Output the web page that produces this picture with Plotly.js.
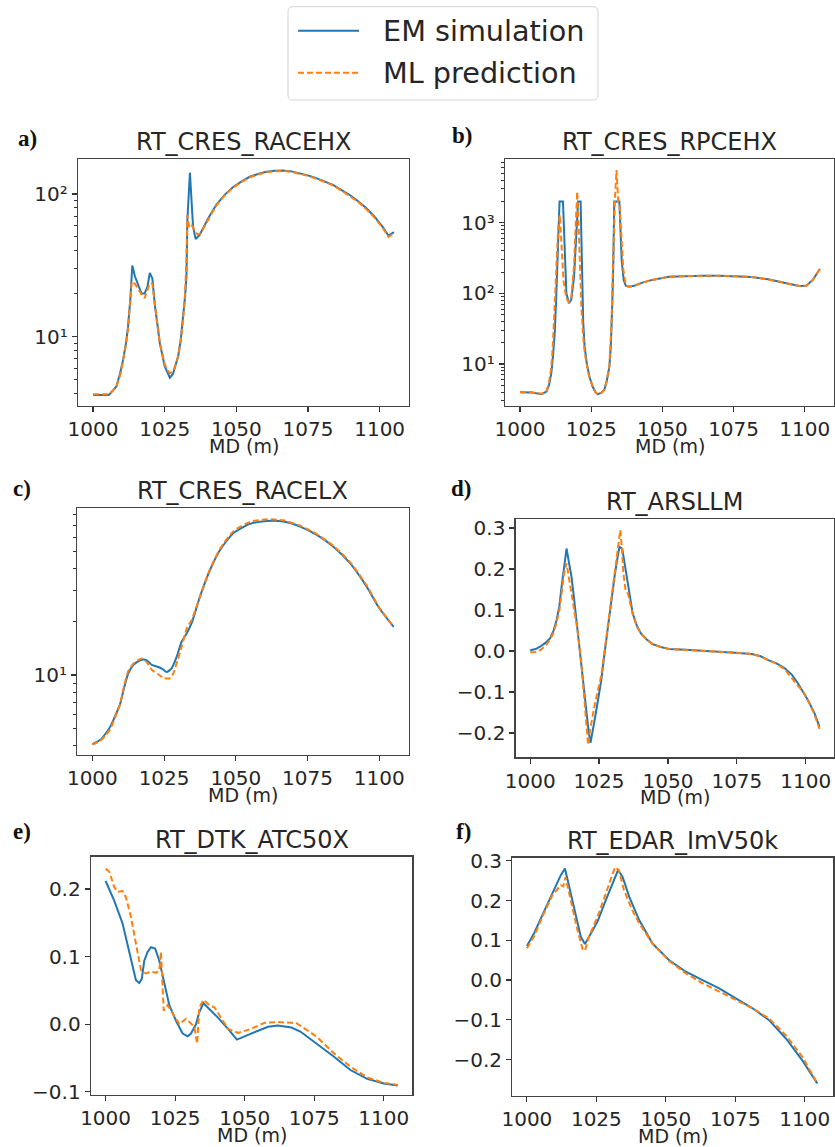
<!DOCTYPE html>
<html><head><meta charset="utf-8">
<script src="https://cdn.plot.ly/plotly-3.0.1.min.js"></script>
<style>html,body{margin:0;padding:0;background:#fff;}#chart{width:835px;height:1147px;}</style>
</head><body><div id="chart"></div>
<script>
// ---------------- data ----------------
const mdTicks = [1000, 1025, 1050, 1075, 1100];
const mdTickText = ['1000', '1025', '1050', '1075', '1100'];
const seriesNames = ['EM simulation', 'ML prediction'];
const panelTitles = ['RT_CRES_RACEHX', 'RT_CRES_RPCEHX', 'RT_CRES_RACELX', 'RT_ARSLLM', 'RT_DTK_ATC50X', 'RT_EDAR_ImV50k'];
const panelLetters = ['a)', 'b)', 'c)', 'd)', 'e)', 'f)'];
const xTitle = 'MD (m)';

// a) RT_CRES_RACEHX
const mdA_em = [1000,1003,1005.5,1007,1008.2,1009.5,1010.5,1011.5,1012.2,1013,1013.7,1014.6,1015.7,1016.9,1018,1019,1019.8,1020.7,1021.5,1022.4,1023.3,1025,1026,1026.8,1027.9,1029,1029.7,1030.6,1031.4,1032.1,1032.6,1032.9,1033.8,1034.9,1035.8,1037.2,1040.2,1043,1046,1048.9,1052,1054.7,1057.5,1060.5,1063.4,1066.3,1069.2,1072.1,1075,1077.9,1080.8,1083.7,1086.6,1089.6,1092.5,1095.4,1098.3,1101,1103.1,1105];
const racehx_em = [3.9,3.9,3.9,4.2,4.5,5.6,6.9,9.0,11.7,18.1,31.5,26.5,23,20.1,20.1,22.4,28,25.6,17.1,12,9.0,6.2,5.5,5.15,5.5,6.4,7.3,9.5,13.1,19,26.3,65,141,59,48.4,51.6,67.6,84,99,112,123,132,138,143,145.5,146,144,140,135,129,123,116,107,98.4,89,79.4,69,59,51,54];
const mdA_ml = [1000,1003,1005.5,1007,1008.2,1009.5,1010.5,1011.5,1012.2,1013,1013.5,1014.6,1015.7,1016.9,1018,1019,1019.8,1020.7,1021.5,1022.4,1023.3,1025,1026,1026.8,1027.9,1029,1029.7,1030.6,1031.4,1032.1,1032.6,1032.9,1033.6,1034.5,1035.5,1036.5,1037.5,1040.2,1043,1046,1048.9,1052,1054.7,1057.5,1060.5,1063.4,1066.3,1069.2,1072.1,1075,1077.9,1080.8,1083.7,1086.6,1089.6,1092.5,1095.4,1098.3,1101,1103.1,1105];
const racehx_ml = [3.95,3.95,3.95,4.2,4.5,5.4,6.7,8.8,11.5,17,24.3,23.5,21.5,19.8,18.6,21.5,23.7,23.5,17,12,9,6.4,5.8,5.55,5.7,6.5,7.3,9.4,13,20,35,71,58,60,55,52,53,66,83,98,111,122,131,137,142,144.5,145,143,139,134,128,122,115,106,97,88,78,68,58,50,53];

// b) RT_CRES_RPCEHX
const mdB_em = [1000,1004,1007.6,1009.3,1010.2,1011,1011.6,1012.2,1012.7,1013.1,1013.5,1013.9,1015.1,1015.4,1015.7,1016.3,1017.2,1018,1019,1019.8,1020.4,1021.3,1021.5,1021.8,1022.2,1022.7,1023.5,1024.4,1025.5,1026.5,1027.3,1028.5,1029.6,1030.5,1031.4,1031.9,1032.2,1032.5,1032.8,1033.1,1034.9,1035.3,1035.7,1036.4,1037.2,1038.3,1040.1,1043,1046.4,1052.3,1058,1063.9,1069.7,1075.5,1081.3,1087.1,1093,1098,1100.5,1102.8,1105.3];
const rpcehx_em = [4.0,3.97,3.74,4.07,5.0,7.4,13,27,80,214,700,2000,2000,800,369,100,72.4,80.7,172,878,2000,2000,600,100,40,17.6,10,6.6,4.8,4.0,3.74,3.9,4.3,5.8,9.2,18,33.8,90,297,2000,2000,800,297,155,127,124,128,142,155,172,176,178,178,176,171,158,142,127,128,155,221];
const mdB_ml = [1000,1004,1007.6,1009.3,1010.2,1011,1011.6,1012.2,1012.8,1013.4,1014.0,1014.6,1015.3,1016.3,1017.2,1018,1019,1019.6,1020.1,1020.6,1021.1,1021.6,1022.2,1022.7,1023.5,1024.4,1025.5,1026.5,1027.3,1028.5,1029.6,1030.5,1031.4,1031.9,1032.2,1032.5,1032.9,1033.3,1033.9,1034.5,1035.0,1035.7,1036.3,1037.2,1038.3,1040.1,1043,1046.4,1052.3,1058,1063.9,1069.7,1075.5,1081.3,1087.1,1093,1098,1100.5,1102.8,1105.3];
const rpcehx_ml = [4.0,4.0,3.8,4.1,5.5,9,20,60,250,800,1285,400,150,85,75,85,250,1000,2740,900,200,60,25,15,9.5,6.5,4.8,4.0,3.75,3.9,4.3,5.9,9.5,20,45,150,600,2000,5560,2000,1680,511,214,130,124,128,142,155,172,176,178,178,176,171,158,142,127,128,155,221];

// c) RT_CRES_RACELX
const mdC_em = [1000,1002.7,1004.5,1006.2,1008,1009.7,1011,1012.5,1014.3,1015.8,1017.2,1019,1020.7,1023,1024.5,1025.9,1027.6,1029.4,1031.1,1032.9,1034.6,1037.5,1041,1044.5,1049.1,1054.9,1060.8,1066.6,1072.4,1078.2,1084,1089.8,1095.6,1100,1105];
const racelx_em = [4.08,4.30,4.65,5.1,5.9,6.9,8.4,10.2,11.4,11.9,12.2,12.1,11.4,11.1,10.8,10.4,10.9,12.7,15.4,17.2,19.6,27.7,39.1,50.7,63,71.1,73.9,73.3,68.6,61.6,52.9,42.7,31.5,23.8,18.7];
const mdC_ml = [1000,1002.7,1004.5,1006.2,1008,1009.7,1011,1012.5,1014.3,1015.8,1017.2,1019,1020.7,1023,1024.8,1027.1,1028.2,1029.6,1031.1,1033,1034.6,1036,1037.5,1041,1044.5,1049.1,1054.9,1060.8,1066.6,1072.4,1078.2,1084,1089.8,1095.6,1100,1105];
const racelx_ml = [4.05,4.25,4.55,4.95,5.8,6.9,8.6,10.5,11.6,12.1,12.4,11.8,10.7,10.1,9.6,9.6,10.2,12.0,14.4,18.5,20.4,23.5,27.5,39.5,51.5,64.5,73,75.5,74.5,69.5,62.3,53.5,43.3,32,24,18.7];

// d) RT_ARSLLM
const mdD_em = [1000,1002,1003.6,1005.5,1007.2,1008.5,1009.6,1010.6,1011.4,1012.3,1013.2,1014.1,1015,1015.9,1016.8,1017.7,1018.6,1019.5,1020.4,1021.2,1021.9,1022.6,1023.4,1024.6,1025.8,1027,1028.2,1029.4,1030.6,1031.5,1032.4,1033.4,1034.1,1034.8,1036,1037.2,1038.7,1040.2,1042.3,1044.4,1047.4,1050.4,1056.4,1062.4,1068.4,1074.4,1080.4,1083.4,1086.4,1089.4,1092.4,1095,1097.2,1099.2,1100.8,1103.2,1105];
const arsllm_em = [0.002,0.005,0.0105,0.02,0.031,0.05,0.076,0.11,0.157,0.205,0.25,0.215,0.181,0.13,0.076,0.02,-0.03,-0.09,-0.152,-0.195,-0.224,-0.2,-0.168,-0.12,-0.071,-0.005,0.059,0.12,0.181,0.22,0.254,0.25,0.22,0.19,0.14,0.092,0.062,0.043,0.028,0.017,0.01,0.005,0.003,0.001,-0.001,-0.004,-0.007,-0.012,-0.022,-0.03,-0.042,-0.058,-0.079,-0.1,-0.12,-0.152,-0.185];
const mdD_ml = [1000,1002,1003.6,1005.5,1007.2,1008.4,1009.6,1010.6,1011.4,1012.3,1013.2,1014.4,1015.3,1016.3,1017.2,1018.6,1019.5,1020.4,1021,1021.8,1022.8,1023.6,1024.6,1025.8,1027,1028.2,1029.4,1030.6,1031.5,1032.2,1032.7,1033.3,1033.8,1034.6,1035.5,1037.2,1038.7,1040.2,1042.3,1044.4,1047.4,1050.4,1056.4,1062.4,1068.4,1074.4,1080.4,1083.4,1086.4,1089.4,1092.4,1095,1097.2,1099.2,1100.8,1103.2,1105];
const arsllm_ml = [-0.003,-0.002,0.002,0.012,0.028,0.043,0.07,0.1,0.14,0.19,0.214,0.165,0.13,0.09,0.05,-0.03,-0.1,-0.175,-0.229,-0.19,-0.152,-0.125,-0.095,-0.06,0.0,0.06,0.12,0.18,0.225,0.27,0.295,0.25,0.19,0.149,0.14,0.09,0.06,0.042,0.028,0.017,0.01,0.005,0.003,0.001,-0.001,-0.004,-0.007,-0.013,-0.022,-0.031,-0.045,-0.068,-0.085,-0.1,-0.12,-0.155,-0.19];

// e) RT_DTK_ATC50X
const mdE_em = [1000,1003.1,1006.1,1008.5,1010.9,1012.1,1013,1013.9,1015.1,1016.3,1017.8,1019.3,1021.1,1022.9,1025.3,1027.7,1029.5,1030.7,1032.5,1033.7,1035.2,1036.7,1040.3,1044,1047.2,1052.3,1058.4,1061.9,1066.8,1070,1076,1082,1088,1094,1100,1105];
const atc50x_em = [0.212,0.183,0.149,0.109,0.065,0.061,0.067,0.094,0.107,0.114,0.112,0.094,0.06,0.028,0.005,-0.014,-0.018,-0.014,0.0,0.018,0.031,0.025,0.01,-0.007,-0.023,-0.014,-0.004,-0.002,-0.005,-0.011,-0.029,-0.048,-0.068,-0.081,-0.088,-0.091];
const mdE_ml = [1000,1001.3,1003.1,1004.3,1006.1,1007.3,1009.1,1010.9,1012.7,1014.5,1016.3,1018.1,1019.3,1019.9,1020.5,1020.9,1022.3,1023.5,1026.5,1028.9,1030.7,1031.9,1032.9,1033.7,1035.2,1037.3,1039.1,1040.9,1044,1047.6,1052.3,1057.1,1061.9,1066.8,1068.8,1076,1082,1088,1094,1100,1105];
const atc50x_ml = [0.230,0.226,0.203,0.196,0.197,0.188,0.159,0.119,0.080,0.075,0.078,0.076,0.080,0.107,0.065,0.020,0.028,0.020,0.000,0.008,0.000,-0.004,-0.029,0.025,0.036,0.028,0.025,0.013,-0.007,-0.013,-0.007,0.002,0.003,0.002,0.001,-0.019,-0.043,-0.063,-0.079,-0.087,-0.090];

// f) RT_EDAR_ImV50k
const mdF_em = [1000,1002.6,1005.6,1009.2,1012.2,1013.7,1015.2,1017.6,1019.4,1020.9,1023,1025.4,1028.4,1031.4,1032.8,1034.4,1036.8,1040.4,1045.2,1051.2,1057.2,1063.2,1069.2,1075.2,1081.2,1087.2,1093.2,1099.1,1104.5];
const imv50k_em = [0.0856,0.118,0.164,0.218,0.264,0.281,0.235,0.159,0.109,0.091,0.118,0.147,0.201,0.252,0.277,0.260,0.210,0.151,0.092,0.050,0.021,0.000,-0.021,-0.046,-0.071,-0.101,-0.147,-0.202,-0.260];
const mdF_ml = [1000,1002.6,1005.6,1009.2,1012.2,1013.1,1013.9,1015.2,1018.2,1020.1,1020.9,1022.3,1025.4,1028.4,1031.7,1033.1,1034.9,1037.9,1040.4,1045.2,1051.2,1057.2,1063.2,1069.2,1075.2,1081.2,1087.2,1093.2,1099.1,1104.5];
const imv50k_ml = [0.080,0.110,0.160,0.214,0.239,0.236,0.259,0.218,0.126,0.076,0.074,0.109,0.159,0.218,0.284,0.277,0.227,0.176,0.143,0.092,0.048,0.017,-0.008,-0.029,-0.050,-0.071,-0.097,-0.139,-0.193,-0.260];

// ---------------- layout helpers ----------------
const W = 835, H = 1147;
const PX = p => p / W;
const PY = p => 1 - p / H;
const BLUE = '#1f77b4', ORANGE = '#ff7f0e';
const TXT = '#262626', AXC = '#444444';
const FONT = 'DejaVu Sans';
const TICKSIZE = 20;

// plot boxes in pixels: [left, top, right, bottom]
const boxes = [
  [78, 159.3, 409, 406],
  [505, 159.3, 834, 406],
  [77.3, 508.3, 408.7, 755],
  [515.7, 519, 834, 757.3],
  [91, 856.7, 412.3, 1095],
  [512.3, 857.7, 833.3, 1095.7]
];
const labelPos = [[16, 138], [450, 135], [11, 488], [449, 489], [11, 831.5], [454, 831]];

const panels = [
  {x1: mdA_em, y1: racehx_em, x2: mdA_ml, y2: racehx_ml, log: true, range: [0.514, 2.243],
   tv: [10, 100], tt: ['10\u00b9', '10\u00b2'], minor: [4,5,6,7,8,9,20,30,40,50,60,70,80,90]},
  {x1: mdB_em, y1: rpcehx_em, x2: mdB_ml, y2: rpcehx_ml, log: true, range: [0.406, 3.897],
   tv: [10, 100, 1000], tt: ['10\u00b9', '10\u00b2', '10\u00b3'], minor: [3,4,5,6,7,8,9,20,30,40,50,60,70,80,90,200,300,400,500,600,700,800,900,2000,3000,4000,5000,6000,7000]},
  {x1: mdC_em, y1: racelx_em, x2: mdC_ml, y2: racelx_ml, log: true, range: [0.549, 1.940], spline: true,
   tv: [10], tt: ['10\u00b9'], minor: [4,5,6,7,8,9,20,30,40,50,60,70,80]},
  {x1: mdD_em, y1: arsllm_em, x2: mdD_ml, y2: arsllm_ml, log: false, range: [-0.259, 0.322],
   tv: [-0.2, -0.1, 0, 0.1, 0.2, 0.3], tt: ['\u22120.2', '\u22120.1', '0.0', '0.1', '0.2', '0.3']},
  {x1: mdE_em, y1: atc50x_em, x2: mdE_ml, y2: atc50x_ml, log: false, range: [-0.105, 0.248],
   tv: [-0.1, 0, 0.1, 0.2], tt: ['\u22120.1', '0.0', '0.1', '0.2']},
  {x1: mdF_em, y1: imv50k_em, x2: mdF_ml, y2: imv50k_ml, log: false, range: [-0.291, 0.308],
   tv: [-0.2, -0.1, 0, 0.1, 0.2, 0.3], tt: ['\u22120.2', '\u22120.1', '0.0', '0.1', '0.2', '0.3']}
];

const traces = [];
const layout = {
  width: W, height: H, margin: {l: 0, r: 0, t: 0, b: 0},
  paper_bgcolor: '#fff', plot_bgcolor: '#fff', showlegend: false,
  font: {family: FONT, color: TXT, size: TICKSIZE},
  annotations: [], shapes: []
};

panels.forEach((p, i) => {
  const n = i + 1;
  const xa = 'x' + (n === 1 ? '' : n), ya = 'y' + (n === 1 ? '' : n);
  const b = boxes[i];
  const lineShape = p.spline ? 'spline' : 'linear';
  traces.push({x: p.x1, y: p.y1, xaxis: xa, yaxis: ya, type: 'scatter', mode: 'lines', name: seriesNames[0],
    line: {color: BLUE, width: 2, shape: lineShape, smoothing: 0.6}});
  traces.push({x: p.x2, y: p.y2, xaxis: xa, yaxis: ya, type: 'scatter', mode: 'lines', name: seriesNames[1],
    line: {color: ORANGE, width: 2, dash: '6px,3px', shape: lineShape, smoothing: 0.6}});
  const mk = () => ({showgrid: false, zeroline: false, showline: true, mirror: true, linecolor: AXC, linewidth: 1.3,
    ticks: 'outside', ticklen: 5, tickwidth: 1.2, tickcolor: '#333',
    tickfont: {family: FONT, size: TICKSIZE, color: TXT}});
  layout['xaxis' + (n === 1 ? '' : n)] = Object.assign(mk(), {
    domain: [PX(b[0]), PX(b[2])], anchor: ya, range: [994.75, 1110.25],
    tickmode: 'array', tickvals: mdTicks, ticktext: mdTickText
  });
  const yax = Object.assign(mk(), {
    domain: [PY(b[3]), PY(b[1])], anchor: xa, range: p.range, type: p.log ? 'log' : 'linear',
    tickmode: 'array', tickvals: p.tv, ticktext: p.tt
  });
  if (p.log) yax.minor = {tickmode: 'array', tickvals: p.minor, ticks: 'outside', ticklen: 3, tickwidth: 1, tickcolor: '#333'};
  layout['yaxis' + (n === 1 ? '' : n)] = yax;
  layout.annotations.push({xref: 'paper', yref: 'paper', x: PX((b[0] + b[2]) / 2), y: PY(b[1]), xanchor: 'center', yanchor: 'bottom',
    yshift: 1, text: panelTitles[i], showarrow: false, font: {family: FONT, size: 24, color: TXT}});
  layout.annotations.push({xref: 'paper', yref: 'paper', x: PX((b[0] + b[2]) / 2), y: PY(b[3] + 40), xanchor: 'center', yanchor: 'middle',
    text: xTitle, showarrow: false, font: {family: FONT, size: 19, color: TXT}});
  layout.annotations.push({xref: 'paper', yref: 'paper', x: PX(labelPos[i][0]), y: PY(labelPos[i][1]), xanchor: 'left', yanchor: 'middle',
    text: panelLetters[i], showarrow: false, font: {family: 'Liberation Serif', size: 23, color: '#111', weight: 'bold'}});
});

// legend (custom box)
const L = 288, T = 6.7, R = 598, B = 100, r = 5;
const rx = r / W, ry = r / H;
const lx = PX(L), rX = PX(R), ty = PY(T), by = PY(B);
layout.shapes.push({type: 'path', xref: 'paper', yref: 'paper',
  path: `M ${lx + rx} ${ty} L ${rX - rx} ${ty} Q ${rX} ${ty} ${rX} ${ty - ry} L ${rX} ${by + ry} Q ${rX} ${by} ${rX - rx} ${by} L ${lx + rx} ${by} Q ${lx} ${by} ${lx} ${by + ry} L ${lx} ${ty - ry} Q ${lx} ${ty} ${lx + rx} ${ty} Z`,
  line: {color: '#d4d4d4', width: 1}, fillcolor: 'rgba(255,255,255,0.8)', layer: 'above'});
const legRows = [[30.7, BLUE, 'solid'], [72.7, ORANGE, '6px,3px']];
legRows.forEach((row, k) => {
  layout.shapes.push({type: 'line', xref: 'paper', yref: 'paper', x0: PX(298), x1: PX(359), y0: PY(row[0]), y1: PY(row[0]),
    line: {color: row[1], width: 2, dash: row[2]}, layer: 'above'});
  layout.annotations.push({xref: 'paper', yref: 'paper', x: PX(381), y: PY(row[0]), xanchor: 'left', yanchor: 'middle',
    text: seriesNames[k], showarrow: false, font: {family: FONT, size: 28.7, color: TXT}});
});

Plotly.newPlot('chart', traces, layout, {staticPlot: true, displayModeBar: false});
</script>
</body></html>
